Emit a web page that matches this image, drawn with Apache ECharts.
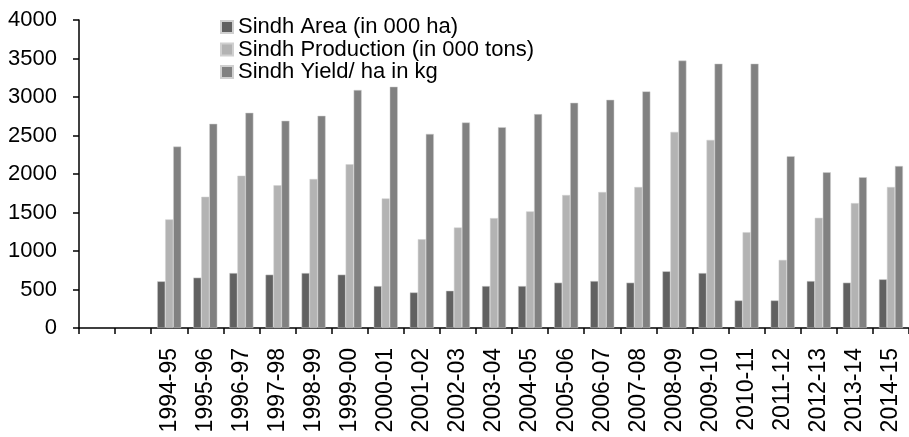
<!DOCTYPE html>
<html>
<head>
<meta charset="utf-8">
<title>Sindh</title>
<script src="https://cdn.jsdelivr.net/npm/echarts@6/dist/echarts.min.js"></script>
<style>
  html, body { margin: 0; padding: 0; background: #fff; }
  #chart { width: 909px; height: 437px; }
</style>
</head>
<body>
<div id="chart"></div>
<script>
// two blank slots at the start, as in the original sheet
var years = ['', '', '1994-95', '1995-96', '1996-97', '1997-98', '1998-99', '1999-00', '2000-01',
  '2001-02', '2002-03', '2003-04', '2004-05', '2005-06', '2006-07', '2007-08', '2008-09',
  '2009-10', '2010-11', '2011-12', '2012-13', '2013-14', '2014-15'];
var area = [null, null, 606, 654, 714, 693, 714, 693, 545, 462, 484, 545, 545, 589, 610, 589, 736, 714, 358, 358, 610, 589, 632];
var production = [null, null, 1410, 1704, 1978, 1853, 1935, 2126, 1683, 1153, 1305, 1427, 1514, 1727, 1766, 1831, 2547, 2443, 1244, 884, 1431, 1622, 1831];
var yieldKg = [null, null, 2356, 2652, 2795, 2691, 2756, 3091, 3134, 2521, 2669, 2608, 2778, 2925, 2964, 3073, 3473, 3433, 3433, 2231, 2022, 1957, 2104];
var yTicks = [0, 500, 1000, 1500, 2000, 2500, 3000, 3500, 4000];

var font = 'Liberation Sans, Arial, sans-serif';
var chart = echarts.init(document.getElementById('chart'));

function barSeries(name, data, color) {
  return {
    name: name,
    type: 'bar',
    data: data,
    barWidth: 8,
    barGap: '0%',
    itemStyle: { color: color, borderColor: '#d0d0d0', borderWidth: 0.5 },
    animation: false
  };
}

chart.setOption({
  animation: false,
  grid: { left: 79, top: 20, right: -5, bottom: 109, containLabel: false },
  legend: {
    orient: 'vertical',
    left: 220,
    top: 16,
    padding: 0,
    itemWidth: 12,
    itemHeight: 12,
    itemGap: 0.5,
    icon: 'rect',
    textStyle: { fontFamily: font, fontSize: 22, color: '#000', lineHeight: 22 },
    data: ['Sindh Area (in 000 ha)', 'Sindh Production (in 000 tons)', 'Sindh Yield/ ha in kg']
  },
  xAxis: {
    type: 'category',
    data: years,
    axisLine: { lineStyle: { color: '#000', width: 1.5 } },
    axisTick: { show: true, interval: 0, length: 6, lineStyle: { color: '#000', width: 1.5 } },
    axisLabel: { interval: 0, rotate: 90, margin: 20, fontFamily: font, fontSize: 23, color: '#000' }
  },
  yAxis: {
    type: 'value',
    min: yTicks[0],
    max: yTicks[yTicks.length - 1],
    interval: 500,
    splitLine: { show: false },
    axisLine: { show: true, lineStyle: { color: '#000', width: 1.5 } },
    axisTick: { show: true, length: 6, lineStyle: { color: '#000', width: 1.5 } },
    axisLabel: { margin: 22, fontFamily: font, fontSize: 22, color: '#000', formatter: function (v) { return String(v); } }
  },
  series: [
    barSeries('Sindh Area (in 000 ha)', area, '#616161'),
    barSeries('Sindh Production (in 000 tons)', production, '#b3b3b3'),
    barSeries('Sindh Yield/ ha in kg', yieldKg, '#818181')
  ]
});
</script>
</body>
</html>
